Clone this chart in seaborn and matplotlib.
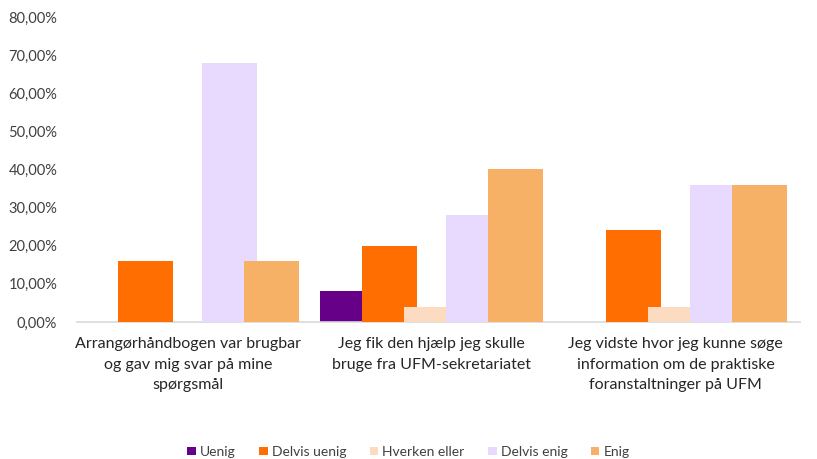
import pandas as pd
import matplotlib.pyplot as plt
import seaborn as sns
from matplotlib.ticker import FuncFormatter
from matplotlib.patches import Patch

# Data
questions = [
    "Arrangørhåndbogen var brugbar\nog gav mig svar på mine\nspørgsmål",
    "Jeg fik den hjælp jeg skulle\nbruge fra UFM-sekretariatet",
    "Jeg vidste hvor jeg kunne søge\ninformation om de praktiske\nforanstaltninger på UFM",
]
answers = ["Uenig", "Delvis uenig", "Hverken eller", "Delvis enig", "Enig"]
uenig = [0.00, 0.08, 0.00]
delvis_uenig = [0.16, 0.20, 0.24]
hverken_eller = [0.00, 0.04, 0.04]
delvis_enig = [0.68, 0.28, 0.36]
enig = [0.16, 0.40, 0.36]
colors = ["#660088", "#FF6E00", "#FDDBC0", "#E8D9FE", "#F6B166"]

values = [uenig, delvis_uenig, hverken_eller, delvis_enig, enig]
rows = []
for ans, vals in zip(answers, values):
    for q, v in zip(questions, vals):
        rows.append({"Spørgsmål": q, "Svar": ans, "Andel": v})
df = pd.DataFrame(rows)

sns.set_style("white")
plt.rcParams["font.family"] = ["Lato", "DejaVu Sans"]

fig = plt.figure(figsize=(8.17, 4.59), dpi=100)
ax = fig.add_axes([0.094, 0.2985, 0.885, 0.6645])

sns.barplot(data=df, x="Spørgsmål", y="Andel", hue="Svar", order=questions,
            hue_order=answers, palette=colors, width=0.86, saturation=1,
            legend=False, ax=ax)

# Excel-style overlapping bars (later series on top)
step = 0.86 / 5
new_w = 0.225
for i, p in enumerate(ax.patches[:15]):
    hue_idx = i // 3
    p.set_x(p.get_x() - (new_w - step) / 2)
    p.set_width(new_w)
    p.set_zorder(2 + hue_idx)
    p.set_edgecolor("none")

ax.set_xlim(-0.455, 2.51)
ax.set_ylim(0, 0.8)
ax.set_yticks([i / 10 for i in range(9)])
ax.yaxis.set_major_formatter(FuncFormatter(lambda v, _: f"{v*100:.2f}%".replace(".", ",")))
ax.set_xlabel("")
ax.set_ylabel("")
for s in ["top", "right", "left"]:
    ax.spines[s].set_visible(False)
ax.spines["bottom"].set_color("#D9D9D9")
ax.spines["bottom"].set_linewidth(1.2)
ax.tick_params(axis="y", length=0, labelsize=10.5, labelcolor="#404040", pad=14)
ax.tick_params(axis="x", length=0, labelsize=11.5, labelcolor="#262626", pad=11)
for lbl in ax.get_xticklabels():
    lbl.set_linespacing(1.6)

handles = [Patch(facecolor=c, edgecolor="none", label=a) for a, c in zip(answers, colors)]
fig.legend(handles=handles, loc="lower center", bbox_to_anchor=(0.5, -0.025), ncol=5,
           frameon=False, fontsize=10, handlelength=0.6, handleheight=0.6,
           handletextpad=0.3, columnspacing=1.7, labelcolor="#404040")

fig.savefig("out.png", dpi=100)
